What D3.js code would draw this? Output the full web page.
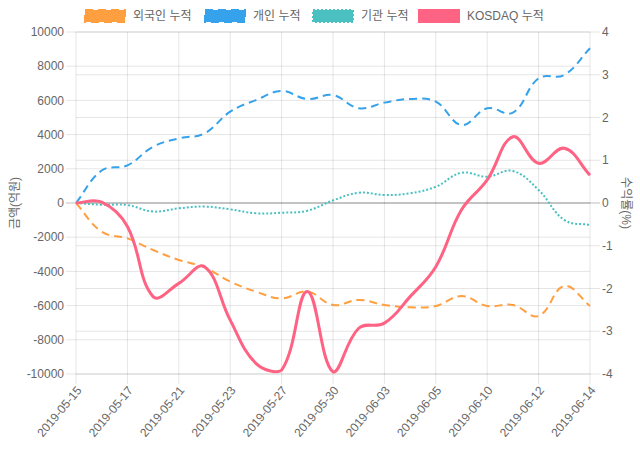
<!DOCTYPE html>
<html><head><meta charset="utf-8">
<script src="https://cdn.jsdelivr.net/npm/d3@7/dist/d3.min.js"></script>
<style>body{margin:0;background:#fff}text{font-family:"Liberation Sans","Helvetica Neue",Helvetica,Arial,"Noto Sans CJK KR",sans-serif}</style>
</head><body><svg id="c" width="640" height="450"></svg>
<script>
const dates = ["2019-05-15","2019-05-16","2019-05-17","2019-05-20","2019-05-21","2019-05-22","2019-05-23","2019-05-24","2019-05-27","2019-05-28","2019-05-30","2019-05-31","2019-06-03","2019-06-04","2019-06-05","2019-06-07","2019-06-10","2019-06-11","2019-06-12","2019-06-13","2019-06-14"];
const foreign = [0,-1680,-2070,-2750,-3330,-3760,-4600,-5180,-5580,-5180,-5960,-5670,-5960,-6100,-6020,-5440,-6020,-5960,-6610,-4850,-6020];
const individual = [0,1900,2200,3290,3780,4070,5340,6020,6550,6080,6310,5540,5870,6080,5930,4560,5540,5280,7290,7490,9050];
const institution = [0,-100,-120,-500,-310,-210,-370,-600,-570,-450,150,600,470,570,950,1770,1540,1870,760,-990,-1290];
const kosdaq = [0,0.02,-0.55,-2.19,-1.88,-1.49,-2.74,-3.75,-3.91,-2.07,-3.95,-2.93,-2.81,-2.19,-1.49,-0.16,0.54,1.55,0.93,1.28,0.65];
const leftTicks = [10000,8000,6000,4000,2000,0,-2000,-4000,-6000,-8000,-10000];
const rightTicks = [4,3,2,1,0,-1,-2,-3,-4];
const seriesNames = ["외국인 누적","개인 누적","기관 누적","KOSDAQ 누적"];

const svg = d3.select("#c");
const L=76,R=590,T=32,B=374;
const x = d3.scalePoint().domain(dates).range([L,R]);
const yl = d3.scaleLinear().domain([-10000,10000]).range([B,T]);
const yr = d3.scaleLinear().domain([-4,4]).range([B,T]);
const grid="rgba(0,0,0,0.1)", txt="#666";

const g = svg.append("g");
leftTicks.forEach(v=>{
  g.append("line").attr("x1",L-10).attr("x2",R).attr("y1",yl(v)).attr("y2",yl(v))
   .attr("stroke",v===0?"rgba(0,0,0,0.25)":grid).attr("stroke-width",1);
  g.append("text").attr("x",L-12).attr("y",yl(v)).attr("dy","0.35em").attr("text-anchor","end")
   .attr("font-size",12).attr("fill",txt).text(v);
});
rightTicks.forEach(v=>{
  g.append("line").attr("x1",L).attr("x2",R+10).attr("y1",yr(v)).attr("y2",yr(v))
   .attr("stroke",v===0?"rgba(0,0,0,0.25)":grid).attr("stroke-width",1);
  g.append("text").attr("x",R+12).attr("y",yr(v)).attr("dy","0.35em").attr("text-anchor","start")
   .attr("font-size",12).attr("fill",txt).text(v);
});
dates.forEach((d,i)=>{
  if(i%2) return;
  g.append("line").attr("x1",x(d)).attr("x2",x(d)).attr("y1",T).attr("y2",B+10)
   .attr("stroke",grid).attr("stroke-width",1);
  g.append("text").attr("transform",`translate(${x(d)+3},${B+14}) rotate(-50)`)
   .attr("text-anchor","end").attr("dy","0.35em").attr("font-size",12).attr("fill",txt).text(d);
});
svg.append("text").attr("transform",`translate(15,${(T+B)/2}) rotate(-90)`).attr("text-anchor","middle")
  .attr("dy","0.35em").attr("font-size",12).attr("fill",txt).text("금액(억원)");
svg.append("text").attr("transform",`translate(626,${(T+B)/2}) rotate(90)`).attr("text-anchor","middle")
  .attr("dy","0.35em").attr("font-size",12).attr("fill",txt).text("수익률(%)");

// Chart.js-style spline (tension 0.4, distance-weighted, capped to area)
function splinePath(pts, t){
  const cps = pts.map((p,i)=>{
    const prev = pts[Math.max(0,i-1)], next = pts[Math.min(pts.length-1,i+1)];
    const d01 = Math.hypot(p[0]-prev[0],p[1]-prev[1]);
    const d12 = Math.hypot(next[0]-p[0],next[1]-p[1]);
    let s01 = d01/(d01+d12), s12 = d12/(d01+d12);
    if(isNaN(s01)) s01=0; if(isNaN(s12)) s12=0;
    const fa=t*s01, fb=t*s12;
    const cap=(px,py)=>[Math.max(L,Math.min(R,px)),Math.max(T,Math.min(B,py))];
    return {
      prev: cap(p[0]-fa*(next[0]-prev[0]), p[1]-fa*(next[1]-prev[1])),
      next: cap(p[0]+fb*(next[0]-prev[0]), p[1]+fb*(next[1]-prev[1]))
    };
  });
  const path = d3.path();
  path.moveTo(pts[0][0],pts[0][1]);
  for(let i=1;i<pts.length;i++){
    const a=cps[i-1].next, b=cps[i].prev;
    path.bezierCurveTo(a[0],a[1],b[0],b[1],pts[i][0],pts[i][1]);
  }
  return path.toString();
}
const series = [
  {data:foreign, y:yl, color:"rgb(255,159,64)", dash:"8,5", w:2},
  {data:individual, y:yl, color:"rgb(54,162,235)", dash:"8,5", w:2},
  {data:institution, y:yl, color:"rgb(75,192,192)", dash:"2,2", w:2},
  {data:kosdaq, y:yr, color:"rgb(255,99,132)", dash:null, w:3}
];
series.forEach(s=>{
  const pts = s.data.map((v,i)=>[x(dates[i]), s.y(v)]);
  svg.append("path").attr("d",splinePath(pts,0.4)).attr("fill","none").attr("stroke",s.color)
    .attr("stroke-width",s.w).attr("stroke-dasharray",s.dash);
});

// legend
const lg = svg.append("g");
const boxX = [85,205,313,419];
seriesNames.forEach((n,i)=>{
  const s=series[i];
  lg.append("rect").attr("x",boxX[i]).attr("y",10).attr("width",40).attr("height",12)
    .attr("fill",s.color).attr("stroke",s.color).attr("stroke-width",2).attr("stroke-dasharray",s.dash);
  lg.append("text").attr("font-size",12).attr("fill",txt).attr("x",boxX[i]+48).attr("y",16).attr("dy","0.35em").text(n);
});
</script></body></html>
